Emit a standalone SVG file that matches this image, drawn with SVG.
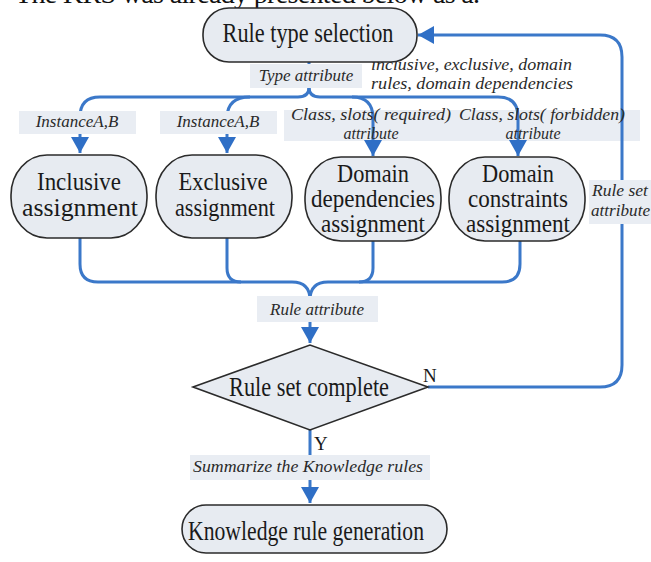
<svg xmlns="http://www.w3.org/2000/svg" width="651" height="562" viewBox="0 0 651 562">
  <defs>
    <marker id="ah" markerUnits="userSpaceOnUse" markerWidth="16" markerHeight="18" viewBox="0 0 16 18" refX="16" refY="9" orient="auto">
      <path d="M0,0 L16,9 L0,18 z" fill="#2f6fc6"/>
    </marker>
    <style>
      .node { fill: #e7ebf1; stroke: #2b2b2b; stroke-width: 1.6; }
      .conn { fill: none; stroke: #3b78c9; stroke-width: 3; }
      .lbl-bg { fill: #e9edf3; }
      .ntext { font-family: "Liberation Serif", "Times New Roman", serif; font-size: 25px; fill: #1a1a1a; text-anchor: middle; }
      .big { font-size: 27px; }
      .ltext { font-family: "Liberation Serif", "Times New Roman", serif; font-size: 17px; font-style: italic; fill: #2a2a2a; }
      .sm { font-size: 16px; }
      .mid { text-anchor: middle; }
      .yn { font-family: "Liberation Serif", "Times New Roman", serif; font-size: 19px; fill: #1a1a1a; }
    </style>
  </defs>

  <rect width="651" height="562" fill="#ffffff"/>

  <!-- running text of the page above the figure, cut by the frame -->
  <text x="15" y="3" font-family="Liberation Serif, serif" font-size="28" fill="#111" textLength="465" lengthAdjust="spacing">The KRS was already presented below as a.</text>

  <!-- background band under the class/slot labels -->
  <rect class="lbl-bg" x="284" y="110" width="356" height="31"/>

  <g id="connectors">
    <!-- distribution from rule type selection -->
    <path class="conn" d="M309,62 V87 Q309,97 298,97 H100 Q80,97 80,117 V153" marker-end="url(#ah)"/>
    <path class="conn" d="M309,87 Q309,97 320,97 H498 Q518,97 518,117 V156" marker-end="url(#ah)"/>
    <path class="conn" d="M250,97 Q227,97 227,118 V153" marker-end="url(#ah)"/>
    <path class="conn" d="M352,97 Q373,97 373,118 V156" marker-end="url(#ah)"/>
    <!-- collection into the check -->
    <path class="conn" d="M80,237 V264 Q80,282 98,282 H292 Q310,282 310,300"/>
    <path class="conn" d="M520,241 V264 Q520,282 502,282 H328 Q310,282 310,300"/>
    <path class="conn" d="M227,237 V268 Q227,282 241,282"/>
    <path class="conn" d="M373,241 V268 Q373,282 359,282"/>
    <path class="conn" d="M310,300 V343" marker-end="url(#ah)"/>
    <!-- N: back to rule type selection -->
    <path class="conn" d="M428,387 H600 Q622,387 622,365 V57 Q622,35 600,35 H418" marker-end="url(#ah)"/>
    <!-- Y: on to generation -->
    <path class="conn" d="M310,430 V503" marker-end="url(#ah)"/>
  </g>

  <g id="labels">
    <rect class="lbl-bg" x="250" y="64" width="112" height="24"/>
    <text class="ltext mid" x="306" y="81">Type attribute</text>
    <text class="ltext sm" x="371" y="70" textLength="201" lengthAdjust="spacingAndGlyphs">inclusive, exclusive, domain</text>
    <text class="ltext sm" x="371" y="89" textLength="202" lengthAdjust="spacingAndGlyphs">rules, domain dependencies</text>

    <rect class="lbl-bg" x="19" y="111" width="117" height="23"/>
    <text class="ltext mid" x="77" y="127">InstanceA,B</text>
    <rect class="lbl-bg" x="160" y="111" width="117" height="23"/>
    <text class="ltext mid" x="218" y="127">InstanceA,B</text>

    <text class="ltext sm" x="291" y="120" textLength="160" lengthAdjust="spacingAndGlyphs">Class, slots( required)</text>
    <text class="ltext sm mid" x="371" y="139">attribute</text>
    <text class="ltext sm" x="459" y="120" textLength="166" lengthAdjust="spacingAndGlyphs">Class, slots( forbidden)</text>
    <text class="ltext sm mid" x="533" y="139">attribute</text>

    <rect class="lbl-bg" x="589" y="180" width="62" height="44"/>
    <text class="ltext" x="592" y="196" textLength="56" lengthAdjust="spacingAndGlyphs">Rule set</text>
    <text class="ltext" x="591" y="216" textLength="59" lengthAdjust="spacingAndGlyphs">attribute</text>

    <rect class="lbl-bg" x="257" y="296" width="121" height="26"/>
    <text class="ltext mid" x="317" y="315">Rule attribute</text>

    <text class="yn" x="423" y="382">N</text>
    <text class="yn" x="314" y="450">Y</text>

    <rect class="lbl-bg" x="190" y="455" width="240" height="25"/>
    <text class="ltext" x="193" y="472" textLength="230" lengthAdjust="spacingAndGlyphs">Summarize the Knowledge rules</text>
  </g>

  <g id="rule-type-selection">
    <rect class="node" x="203" y="8" width="214" height="54" rx="26" ry="26"/>
    <text class="ntext big" x="308" y="42" textLength="171" lengthAdjust="spacingAndGlyphs">Rule type selection</text>
  </g>

  <g id="inclusive-assignment">
    <rect class="node" x="11" y="155" width="136" height="83" rx="36" ry="40"/>
    <text class="ntext" x="79" y="190" textLength="84" lengthAdjust="spacingAndGlyphs">Inclusive</text>
    <text class="ntext" x="80" y="216" textLength="116" lengthAdjust="spacingAndGlyphs">assignment</text>
  </g>

  <g id="exclusive-assignment">
    <rect class="node" x="156" y="155" width="136" height="83" rx="36" ry="40"/>
    <text class="ntext" x="223" y="190" textLength="89" lengthAdjust="spacingAndGlyphs">Exclusive</text>
    <text class="ntext" x="225" y="216" textLength="100" lengthAdjust="spacingAndGlyphs">assignment</text>
  </g>

  <g id="domain-dependencies-assignment">
    <rect class="node" x="305" y="157" width="136" height="84" rx="36" ry="40"/>
    <text class="ntext" x="373" y="182" textLength="72" lengthAdjust="spacingAndGlyphs">Domain</text>
    <text class="ntext" x="373" y="207" textLength="124" lengthAdjust="spacingAndGlyphs">dependencies</text>
    <text class="ntext" x="373" y="232" textLength="104" lengthAdjust="spacingAndGlyphs">assignment</text>
  </g>

  <g id="domain-constraints-assignment">
    <rect class="node" x="449" y="157" width="136" height="84" rx="36" ry="40"/>
    <text class="ntext" x="518" y="182" textLength="72" lengthAdjust="spacingAndGlyphs">Domain</text>
    <text class="ntext" x="518" y="207" textLength="100" lengthAdjust="spacingAndGlyphs">constraints</text>
    <text class="ntext" x="518" y="232" textLength="104" lengthAdjust="spacingAndGlyphs">assignment</text>
  </g>

  <g id="rule-set-complete">
    <polygon class="node" points="193,387 310,345 428,387 310,430"/>
    <text class="ntext big" x="309" y="396" textLength="160" lengthAdjust="spacingAndGlyphs">Rule set complete</text>
  </g>

  <g id="knowledge-rule-generation">
    <rect class="node" x="182" y="505" width="265" height="48" rx="24" ry="24"/>
    <text class="ntext big" x="306" y="540" textLength="236" lengthAdjust="spacingAndGlyphs">Knowledge rule generation</text>
  </g>
</svg>
